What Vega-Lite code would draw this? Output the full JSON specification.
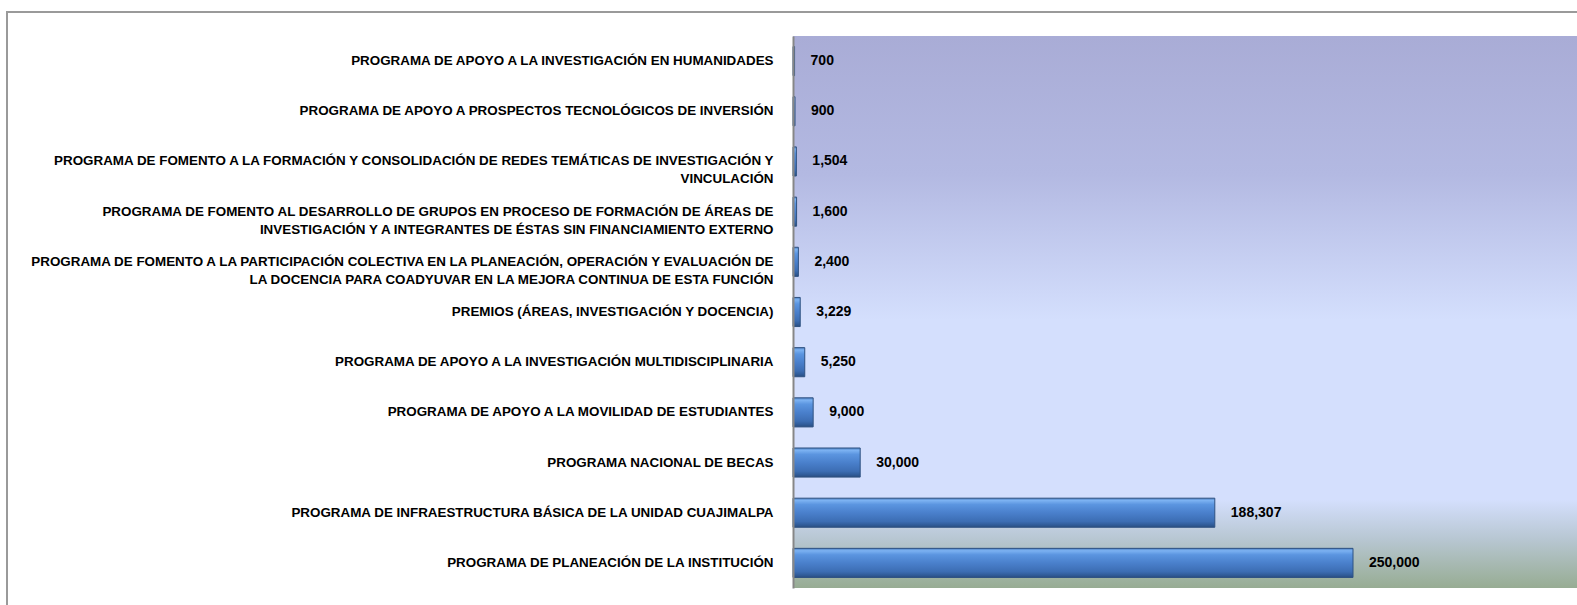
{
  "$schema": "https://vega.github.io/schema/vega-lite/v6.json",
  "width": 1570,
  "height": 593,
  "autosize": {"type": "none"},
  "padding": {"left": 7, "top": 12, "right": 0, "bottom": 0},
  "background": "white",
  "config": {
    "view": {"stroke": "#9a9a9a", "strokeWidth": 2, "strokeDash": [1570, 2163, 600]},
    "font": "Liberation Sans"
  },
  "data": {
    "values": [
      {"programa": "PROGRAMA DE APOYO A LA INVESTIGACIÓN EN HUMANIDADES", "monto": 700},
      {"programa": "PROGRAMA DE APOYO A PROSPECTOS TECNOLÓGICOS DE INVERSIÓN", "monto": 900},
      {"programa": "PROGRAMA DE FOMENTO A LA FORMACIÓN Y CONSOLIDACIÓN DE REDES TEMÁTICAS DE INVESTIGACIÓN Y|VINCULACIÓN", "monto": 1504},
      {"programa": "PROGRAMA DE FOMENTO AL DESARROLLO DE GRUPOS EN PROCESO DE FORMACIÓN DE ÁREAS DE|INVESTIGACIÓN Y A INTEGRANTES DE ÉSTAS SIN FINANCIAMIENTO EXTERNO", "monto": 1600},
      {"programa": "PROGRAMA DE FOMENTO A LA PARTICIPACIÓN COLECTIVA EN LA PLANEACIÓN, OPERACIÓN Y EVALUACIÓN DE|LA DOCENCIA PARA COADYUVAR EN LA MEJORA CONTINUA DE ESTA FUNCIÓN", "monto": 2400},
      {"programa": "PREMIOS (ÁREAS, INVESTIGACIÓN Y DOCENCIA)", "monto": 3229},
      {"programa": "PROGRAMA DE APOYO A LA INVESTIGACIÓN MULTIDISCIPLINARIA", "monto": 5250},
      {"programa": "PROGRAMA DE APOYO A LA MOVILIDAD DE ESTUDIANTES", "monto": 9000},
      {"programa": "PROGRAMA NACIONAL DE BECAS", "monto": 30000},
      {"programa": "PROGRAMA DE INFRAESTRUCTURA BÁSICA DE LA UNIDAD CUAJIMALPA", "monto": 188307},
      {"programa": "PROGRAMA DE PLANEACIÓN DE LA INSTITUCIÓN", "monto": 250000}
    ]
  },
  "resolve": {"scale": {"y": "independent"}},
  "layer": [
    {
      "data": {"values": [{}]},
      "mark": {
        "type": "rect",
        "fill": {
          "gradient": "linear",
          "x1": 0, "y1": 0, "x2": 0, "y2": 1,
          "stops": [
            {"offset": 0, "color": "#a9acd6"},
            {"offset": 0.25, "color": "#b3b9e2"},
            {"offset": 0.515, "color": "#d4dffd"},
            {"offset": 0.84, "color": "#d4dffd"},
            {"offset": 0.91, "color": "#b8c7d3"},
            {"offset": 1, "color": "#97ac93"}
          ]
        }
      },
      "encoding": {
        "x": {"datum": 0, "type": "quantitative", "scale": {"domain": [-350893, 350000], "nice": false, "zero": false}, "axis": null},
        "x2": {"datum": 350000},
        "y": {"datum": 0, "type": "quantitative", "scale": {"domain": [0, 1], "range": [24, 576], "nice": false, "zero": false}, "axis": null},
        "y2": {"datum": 1}
      }
    },
    {
      "encoding": {
        "y": {
          "field": "programa",
          "type": "nominal",
          "sort": null,
          "scale": {"type": "band", "range": [24, 576], "paddingInner": 0.42, "paddingOuter": 0.21},
          "axis": {
            "orient": "left",
            "offset": -786,
            "zindex": 1,
            "title": null,
            "domain": true,
            "domainColor": "#878787",
            "domainWidth": 2,
            "ticks": false,
            "labelExpr": "split(datum.label, '|')",
            "labelFont": "Liberation Sans",
            "labelFontWeight": "bold",
            "labelFontSize": 13.4,
            "labelColor": "#000000",
            "labelPadding": 20,
            "labelLimit": 0,
            "labelLineHeight": 18
          }
        },
        "x": {"field": "monto", "type": "quantitative", "axis": null}
      },
      "layer": [
        {
          "mark": {
            "type": "bar",
            "fill": {
              "gradient": "linear",
              "x1": 0, "y1": 0, "x2": 0, "y2": 1,
              "stops": [
                {"offset": 0, "color": "#4d7fc0"},
                {"offset": 0.08, "color": "#7cb2f2"},
                {"offset": 0.22, "color": "#5b95e0"},
                {"offset": 0.5, "color": "#4a80cc"},
                {"offset": 0.8, "color": "#3c6db3"},
                {"offset": 0.93, "color": "#2f5a96"},
                {"offset": 1, "color": "#2a4d7e"}
              ]
            },
            "stroke": "#2f5282",
            "strokeWidth": 1
          },
          "encoding": {"x2": {"datum": 0}}
        },
        {
          "mark": {
            "type": "text",
            "align": "left",
            "baseline": "middle",
            "dx": 16,
            "font": "Liberation Sans",
            "fontWeight": "bold",
            "fontSize": 14,
            "color": "#000000"
          },
          "encoding": {"text": {"field": "monto", "type": "quantitative", "format": ","}}
        }
      ]
    }
  ]
}
